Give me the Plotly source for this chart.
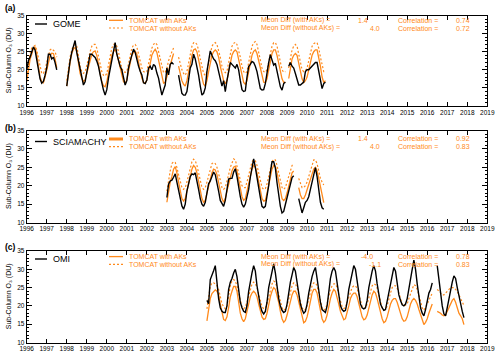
import plotly.graph_objects as go

# ---------------- data (monthly, Jan..Dec per row) ----------------
N = None
a_start = 1996
gome_o3 = [
    20.0, 22.5, 23.5, 25.0, 26.3, 25.5, 22.5, 20.0, 17.5, 16.3, 16.8, 18.5,
    20.5, 24.3, 24.3, 23.0, 23.5, 22.0, 20.0, N, N, N, N, N,
    15.5, 20.0, 22.5, 24.8, 26.7, 28.1, 24.8, 22.5, 19.5, 17.7, 15.8, 16.7,
    19.2, 21.5, 24.3, 24.3, 23.8, 23.4, 22.4, 21.0, 18.6, 16.3, 14.4, 13.0,
    14.5, 17.7, 20.0, 22.4, 24.8, 27.5, 24.3, 22.4, 21.0, 20.0, 18.0, 15.8,
    17.0, 20.5, 22.4, 24.3, 25.7, 24.8, 22.4, 21.0, 19.6, 18.6, 16.4, 16.2,
    17.2, 20.5, 21.0, 20.0, 21.5, 21.0, 19.1, 17.7, 15.3, 13.0, 14.4, 15.8,
    20.5, 18.6, 21.5, 22.0, 21.5, N, N, 18.5, 16.0, 13.5, 13.0, 13.0,
    14.0, 17.0, 20.5, 21.5, 24.3, 23.0, 21.0, 18.5, 15.5, 13.0, 13.5, 15.0,
    19.5, 22.5, 25.2, 24.0, 23.0, 22.5, 21.5, 19.5, 17.0, 15.5, 17.0, 14.0,
    17.0, 20.0, 22.0, 21.5, 21.0, 20.5, 21.5, 20.0, 17.0, 14.5, 14.0, 14.2,
    18.0, 20.9, 21.5, 22.3, 22.0, 21.0, 19.5, 17.0, 14.8, 14.4, 14.5, 16.2,
    19.5, 22.0, 24.2, 22.5, 21.3, 21.8, 19.9, 18.0, 15.3, 14.4, 16.2, 16.6,
    N, 21.0, 22.0, 21.0, 20.5, 19.0, 17.2, 15.8, 15.8, 16.2, 16.6, 19.5,
    20.0, 20.0, 20.5, 21.0, 21.5, 22.0, 22.0, 19.5, 17.0, 14.8, 16.2, 16.6,
]
tomcat_ak_a = [
    16.7, 20.0, 22.9, 24.3, 25.9, 26.2, 24.3, 21.0, 18.1, 16.7, 16.4, 18.0,
    20.0, 22.4, 23.8, 24.6, 24.5, 23.0, 20.5, N, N, N, N, N,
    15.5, 19.5, 22.0, 24.5, 25.7, 26.2, 25.0, 22.0, 19.0, 17.7, 16.7, 17.2,
    19.0, 21.0, 23.0, 24.3, 25.0, 25.2, 24.0, 21.5, 18.6, 16.7, 15.6, 15.3,
    16.7, 19.5, 22.0, 24.0, 25.0, 25.7, 24.5, 22.5, 20.0, 17.8, 16.7, 16.3,
    17.2, 19.6, 22.0, 24.0, 24.8, 25.2, 24.3, 22.0, 19.6, 17.7, 16.5, 16.3,
    17.2, 19.6, 22.0, 24.0, 25.0, 25.7, 24.8, 22.4, 20.0, 17.7, 16.3, 16.5,
    18.0, 20.0, 21.5, 23.0, 24.5, N, N, 21.0, 19.0, 17.0, 16.0, 15.5,
    17.0, 19.5, 22.0, 24.0, 25.5, 25.8, 25.0, 23.0, 20.5, 18.0, 16.0, 15.5,
    17.0, 19.5, 22.0, 24.0, 25.0, 25.5, 25.0, 23.5, 21.0, 18.5, 17.0, 16.2,
    17.0, 19.5, 22.0, 24.0, 25.0, 25.5, 25.0, 23.0, 21.0, 18.5, 16.5, 16.0,
    17.0, 19.5, 22.0, 24.0, 25.1, 25.5, 24.5, 22.5, 20.0, 18.0, 16.6, 16.5,
    17.5, 20.0, 22.5, 24.5, 25.5, 25.5, 24.0, 22.0, 19.5, 17.5, 16.5, 16.5,
    N, 17.6, 20.5, 23.0, 24.0, 24.5, 24.0, 22.0, 19.5, 17.5, 16.5, 17.0,
    18.0, 20.0, 22.0, 24.0, 25.0, 25.5, 25.5, 23.5, 21.0, 18.0, 16.5, 17.0,
]
tomcat_noak_a = [
    18.0, 22.0, 24.5, 26.0, 26.5, 26.7, 25.5, 23.0, 20.5, 19.0, 19.0, 20.0,
    22.0, 24.0, 25.5, 25.8, 25.5, 25.0, 23.5, N, N, N, N, N,
    17.0, 21.0, 23.5, 25.5, 26.7, 27.0, 26.5, 24.0, 21.0, 19.5, 19.0, 19.5,
    21.0, 23.0, 25.0, 26.5, 27.0, 27.0, 26.0, 24.0, 21.5, 19.5, 18.5, 18.3,
    19.0, 21.5, 24.0, 26.0, 27.0, 27.2, 26.5, 25.0, 22.5, 20.5, 19.5, 19.3,
    19.5, 21.5, 24.0, 26.0, 26.8, 27.0, 26.3, 24.5, 22.0, 20.5, 19.5, 19.3,
    19.5, 21.5, 24.0, 26.0, 27.0, 27.5, 27.0, 25.0, 22.5, 20.5, 19.2, 19.3,
    20.5, 22.5, 24.0, 25.0, 26.0, N, N, 23.5, 21.5, 20.0, 19.0, 18.5,
    19.5, 22.0, 24.5, 26.5, 27.5, 27.6, 27.0, 25.5, 23.0, 20.5, 19.0, 18.5,
    19.5, 22.0, 24.5, 26.5, 27.2, 27.5, 27.0, 25.5, 23.5, 21.0, 19.8, 19.2,
    19.5, 22.0, 24.5, 26.5, 27.3, 27.6, 27.0, 25.5, 23.5, 21.0, 19.5, 19.0,
    19.5, 22.0, 24.5, 26.5, 27.5, 27.8, 27.0, 25.0, 22.5, 20.5, 19.5, 19.3,
    20.0, 22.5, 25.0, 26.5, 27.5, 27.5, 26.5, 24.5, 22.0, 20.0, 19.3, 19.5,
    N, 20.5, 23.0, 25.5, 26.5, 27.0, 26.5, 24.5, 22.0, 20.0, 19.5, 19.8,
    20.5, 22.5, 24.5, 26.5, 27.2, 27.5, 27.5, 26.0, 23.5, 21.0, 19.5, 19.5,
]

b_start = 2003
scia_o3 = [
    16.8, 20.4, 21.3, 21.5, 22.3, 23.2, 21.0, 18.5, 16.0, 14.5, 13.6, 15.0,
    18.5, 21.0, 22.5, 23.2, 23.0, 23.5, 21.5, 19.0, 16.5, 15.0, 14.4, 15.5,
    18.0, 20.5, 21.3, 22.5, 23.7, 23.0, 21.0, 18.5, 16.0, 15.0, 14.4, 16.0,
    19.5, 21.8, 22.0, 22.0, 23.7, 24.6, 22.5, 19.5, 17.0, 15.0, 14.2, 15.0,
    17.0, 19.0, 22.3, 25.0, 27.3, 25.0, 22.0, 20.0, 16.8, 14.4, 14.0, 14.4,
    16.8, 20.0, 23.6, 26.5, 26.5, 24.8, 20.8, 17.2, 14.4, 12.6, 13.0, 14.9,
    16.7, 19.0, 20.8, 22.2, 22.7, N, N, 16.5, 14.4, 12.6, 14.0, 15.5,
    16.0, 17.0, 19.0, 21.3, 23.0, 24.9, 22.5, 18.5, 15.5, 14.0, 13.6, N,
]
tomcat_ak_b = [
    15.5, 18.5, 21.0, 22.5, 24.5, 25.2, 23.5, 21.0, 18.5, 16.5, 15.8, 16.5,
    18.5, 20.5, 22.5, 24.5, 25.5, 25.0, 23.5, 21.0, 18.5, 16.5, 15.5, 16.0,
    18.0, 20.0, 22.0, 23.5, 24.5, 24.3, 23.0, 21.0, 18.5, 16.5, 15.5, 16.5,
    18.5, 20.5, 22.5, 24.0, 25.0, 25.3, 24.0, 21.5, 19.0, 17.0, 16.0, 16.5,
    18.5, 20.5, 22.5, 24.5, 25.5, 25.0, 23.5, 21.0, 18.5, 16.5, 15.8, 16.0,
    18.0, 20.5, 22.5, 24.5, 25.5, 25.3, 23.5, 21.0, 18.5, 16.5, 16.0, 16.5,
    18.0, 20.0, 22.0, 23.5, 24.0, N, N, 19.5, 17.5, 16.5, 16.5, 17.5,
    19.0, 20.5, 22.0, 23.5, 24.5, 25.0, 24.0, 22.0, 19.5, 17.0, 15.4, N,
]
tomcat_noak_b = [
    18.5, 21.5, 24.0, 26.0, 26.5, 26.3, 25.0, 23.0, 21.0, 19.5, 19.0, 19.5,
    21.0, 23.0, 25.0, 26.5, 27.2, 26.8, 25.5, 23.5, 21.5, 19.5, 19.0, 19.5,
    21.0, 22.5, 24.5, 26.0, 26.3, 26.0, 25.0, 23.5, 21.5, 19.5, 19.0, 19.5,
    21.0, 23.0, 25.0, 26.5, 27.3, 27.0, 25.5, 23.5, 21.5, 20.0, 19.5, 19.5,
    21.0, 23.0, 25.0, 26.5, 27.0, 26.8, 25.5, 23.5, 21.5, 19.5, 19.0, 19.2,
    20.5, 22.5, 24.5, 26.5, 27.2, 27.0, 25.5, 23.5, 21.5, 19.5, 19.0, 19.5,
    21.0, 22.5, 24.5, 25.5, 26.0, N, N, 22.0, 20.5, 19.5, 19.5, 20.0,
    21.0, 22.5, 24.0, 25.5, 27.0, 27.0, 26.0, 24.0, 22.0, 21.0, 20.2, N,
]

c_start = 2005
omi_o3 = [
    21.5, 20.6, 27.2, 28.2, 29.6, 31.0, 26.0, 22.0, 19.5, 18.5, 18.2, 18.2,
    20.0, 24.5, 26.5, 27.5, 29.0, 30.0, 28.0, 24.0, 21.0, 19.5, 18.5, 18.2,
    20.1, 24.0, 27.0, 29.0, 31.0, 29.5, 25.5, 22.0, 20.0, 18.5, 17.8, 18.5,
    21.0, 25.0, 27.5, 29.5, 31.5, 29.0, 25.0, 22.0, 20.0, 18.8, 18.2, 18.5,
    20.5, 24.0, 26.5, 28.5, 30.5, 29.5, 26.0, 22.5, 20.5, 19.0, 18.0, 18.5,
    20.5, 23.5, 26.0, 28.0, 29.5, 30.5, 27.5, 23.5, 21.0, 19.0, 18.5, 18.2,
    20.0, 24.0, 27.5, 29.5, 30.5, 29.5, 26.0, 22.0, 20.0, 19.0, 18.5, 18.8,
    21.0, 24.5, 27.0, 29.0, 31.0, 30.0, 26.5, 23.0, 20.5, 19.5, 19.2, 19.5,
    21.5, 25.0, 27.5, 29.5, 31.0, 29.5, 26.0, 22.5, 20.5, 19.5, 18.8, 19.0,
    21.5, 24.0, 26.0, 28.5, 30.5, 29.5, 26.5, 23.0, 21.5, 20.3, 20.0, 20.5,
    22.0, 25.0, 27.5, 30.0, 32.5, 30.0, 26.0, 22.0, 19.5, 18.0, 17.3, 19.0,
    21.5, 23.5, 24.5, 26.3, N, N, 31.0, 27.0, 23.0, 20.0, 17.8, 17.3,
    19.5, 22.0, 24.5, 26.5, 28.2, 27.5, 25.0, 22.5, 20.0, 18.5, 16.8, N,
]
tomcat_ak_c = [
    15.9, 19.5, 22.0, 23.4, 23.9, 24.4, 24.0, 23.0, 20.5, 18.0, 16.3, 16.0,
    17.0, 19.5, 22.5, 24.0, 25.3, 25.3, 24.0, 21.0, 18.0, 16.5, 15.7, 16.5,
    18.5, 20.5, 22.5, 23.5, 24.0, 23.5, 22.5, 20.5, 18.5, 17.0, 16.3, 16.5,
    18.0, 20.5, 22.5, 24.0, 25.0, 24.5, 23.0, 21.0, 18.5, 16.5, 15.5, 16.0,
    17.5, 19.5, 21.5, 23.0, 24.0, 24.0, 23.0, 21.0, 18.5, 16.5, 15.4, 15.8,
    17.0, 19.0, 21.5, 23.5, 24.5, 24.5, 23.5, 21.0, 18.5, 16.5, 15.5, 16.0,
    17.5, 20.0, 22.0, 23.5, 24.5, 24.0, 22.5, 20.5, 18.5, 17.0, 16.2, 16.5,
    18.0, 20.0, 22.0, 23.0, 23.5, 23.5, 22.5, 20.5, 18.5, 17.0, 16.2, 16.5,
    17.5, 19.5, 21.5, 23.0, 24.0, 23.5, 22.0, 20.0, 18.0, 16.5, 15.4, 15.8,
    17.0, 19.0, 20.5, 21.5, 22.0, 22.0, 21.0, 19.5, 18.0, 16.5, 15.8, 16.0,
    17.0, 19.0, 20.5, 21.5, 22.0, 21.5, 20.5, 19.0, 17.5, 16.0, 14.9, 15.5,
    16.5, 18.0, 19.5, 20.5, N, N, 18.5, 18.3, 18.0, 17.5, 17.3, 17.5,
    18.5, 19.5, 20.5, 21.5, 22.0, 21.0, 19.5, 18.0, 17.3, 16.5, 14.9, N,
]
tomcat_noak_c = [
    19.2, 22.0, 25.3, 26.3, 26.3, 26.0, 25.5, 24.5, 22.5, 20.6, 19.8, 19.2,
    20.0, 22.5, 25.5, 26.8, 27.2, 26.8, 25.5, 23.5, 21.5, 19.7, 19.2, 19.7,
    21.0, 22.5, 24.5, 26.0, 26.5, 26.0, 25.0, 23.0, 21.0, 19.8, 19.2, 19.5,
    20.5, 22.5, 24.5, 26.0, 26.8, 26.5, 25.0, 23.0, 21.0, 19.5, 18.8, 19.2,
    20.0, 22.0, 24.0, 25.5, 26.3, 26.0, 25.0, 23.0, 21.0, 19.5, 18.8, 19.0,
    20.0, 22.0, 24.0, 25.5, 26.3, 26.3, 25.5, 23.5, 21.0, 19.5, 18.8, 19.2,
    20.5, 22.5, 24.5, 25.5, 26.0, 26.0, 25.0, 23.0, 21.0, 19.8, 19.3, 19.5,
    21.0, 22.5, 24.0, 25.0, 25.5, 25.5, 24.8, 23.0, 21.0, 19.8, 19.3, 19.5,
    20.5, 22.0, 24.0, 25.5, 26.0, 25.8, 24.8, 23.0, 21.0, 19.5, 18.8, 19.0,
    20.0, 22.0, 23.5, 25.0, 25.5, 25.5, 24.8, 23.5, 22.0, 20.5, 20.0, 20.2,
    20.5, 22.0, 23.5, 25.0, 25.8, 25.5, 24.5, 23.0, 21.0, 19.5, 18.8, 19.5,
    20.5, 21.5, 22.5, 23.5, N, N, 24.5, 24.0, 23.5, 23.0, 23.0, 23.5,
    24.0, 24.5, 25.0, 25.0, 25.0, 24.5, 24.0, 23.0, 22.0, 21.0, 20.1, N,
]

year_ticks = list(range(1996, 2020))
year_labels = [str(v) for v in year_ticks]
y_ticks = [10, 15, 20, 25, 30, 35]

panels = [
    dict(name="GOME", start=a_start, obs=gome_o3, ak=tomcat_ak_a, noak=tomcat_noak_a,
         md1="1.4", md2="4.0", r1="0.74", r2="0.72", label="(a)"),
    dict(name="SCIAMACHY", start=b_start, obs=scia_o3, ak=tomcat_ak_b, noak=tomcat_noak_b,
         md1="1.4", md2="4.0", r1="0.92", r2="0.83", label="(b)"),
    dict(name="OMI", start=c_start, obs=omi_o3, ak=tomcat_ak_c, noak=tomcat_noak_c,
         md1="-4.0", md2="-1.1", r1="0.78", r2="0.83", label="(c)"),
]

# ---------------- layout geometry (pixels) ----------------
W, H = 500, 359
XL, XR = 26.7, 487.3
tops = [15.5, 130.5, 251.0]
bots = [106.0, 222.5, 342.5]
label_y = [8.3, 128.3, 246.7]
obs_leg_y = [24.0, 141.5, 259.0]
mod_leg_y = [(20.3, 28.0), (139.0, 146.7), (256.6, 264.3)]
ORANGE = "#FF8A1C"
FONT = "Liberation Sans, Arial, sans-serif"
TXT = 7

def px(x):
    return x / W

def py(y):
    return 1 - y / H

fig = go.Figure()
shapes = []
annotations = []

for i, p in enumerate(panels):
    n = len(p["obs"])
    t = [p["start"] + k / 12 for k in range(n)]
    sfx = "" if i == 0 else str(i + 1)
    xa, ya = "x" + sfx, "y" + sfx
    fig.add_trace(go.Scatter(x=t, y=p["noak"], mode="lines", xaxis=xa, yaxis=ya,
                             line=dict(color=ORANGE, width=1.2, dash="2px,2px"),
                             connectgaps=False, showlegend=False))
    fig.add_trace(go.Scatter(x=t, y=p["ak"], mode="lines", xaxis=xa, yaxis=ya,
                             line=dict(color=ORANGE, width=1.3),
                             connectgaps=False, showlegend=False))
    fig.add_trace(go.Scatter(x=t, y=p["obs"], mode="lines", xaxis=xa, yaxis=ya,
                             line=dict(color="black", width=1.4),
                             connectgaps=False, showlegend=False))

    top, bot = tops[i], bots[i]
    fig.layout["xaxis" + sfx] = dict(
        domain=[px(XL), px(XR)], range=[1996, 2019], anchor=ya,
        tickmode="array", tickvals=year_ticks, ticktext=year_labels,
        tickangle=0, ticklabeloverflow="allow",
        ticks="inside", ticklen=4, tickwidth=0.8, tickcolor="black",
        showline=True, linecolor="black", linewidth=1, mirror="ticks",
        showgrid=False, zeroline=False, tickfont=dict(family=FONT, size=6.5, color="black"),
        fixedrange=True)
    fig.layout["yaxis" + sfx] = dict(
        domain=[py(bot), py(top)], range=[10, 35], anchor=xa,
        tickmode="array", tickvals=y_ticks, ticks="inside", ticklen=5, tickwidth=0.8,
        tickcolor="black", showline=True, linecolor="black", linewidth=1, mirror="ticks",
        ticklabeloverflow="allow",
        minor=dict(dtick=1, ticklen=2.5, tickcolor="black", ticks="inside", showgrid=False),
        showgrid=False, zeroline=False, tickfont=dict(family=FONT, size=6.5, color="black"),
        fixedrange=True)

    # panel label
    annotations.append(dict(x=px(3), y=py(label_y[i]), xref="paper", yref="paper",
                            text=p["label"], showarrow=False,
                            xanchor="left", yanchor="middle",
                            font=dict(family=FONT, size=8.5, color="black", weight="bold")))
    # y-axis title
    annotations.append(dict(x=px(8.5), y=py((top + bot) / 2), xref="paper", yref="paper",
                            text="Sub-Column O\u2083 (DU)", textangle=-90,
                            showarrow=False, xanchor="center", yanchor="middle",
                            font=dict(family=FONT, size=7, color="black")))
    # obs legend
    ly = obs_leg_y[i]
    shapes.append(dict(type="line", xref="paper", yref="paper", x0=px(35), x1=px(47),
                       y0=py(ly), y1=py(ly), line=dict(color="black", width=1.4)))
    annotations.append(dict(x=px(51), y=py(ly), xref="paper", yref="paper", text=p["name"],
                            showarrow=False, xanchor="left", yanchor="middle",
                            font=dict(family=FONT, size=9, color="black")))
    # model legend
    l1, l2 = mod_leg_y[i]
    shapes.append(dict(type="line", xref="paper", yref="paper", x0=px(109), x1=px(123),
                       y0=py(l1), y1=py(l1),
                       line=dict(color=ORANGE, width=3 if i == 1 else 1.3)))
    shapes.append(dict(type="line", xref="paper", yref="paper", x0=px(109), x1=px(123),
                       y0=py(l2), y1=py(l2), line=dict(color=ORANGE, width=1.2, dash="2px,2px")))
    for yy, txt in ((l1, "TOMCAT with AKs"), (l2, "TOMCAT without AKs")):
        annotations.append(dict(x=px(127), y=py(yy), xref="paper", yref="paper", text=txt,
                                showarrow=False, xanchor="left", yanchor="middle",
                                font=dict(family=FONT, size=TXT, color=ORANGE)))
    # stats
    for k, (yy, lab, md, r) in enumerate(((l1, "Meon Diff (with AKs) =", p["md1"], p["r1"]),
                                          (l2, "Meon Diff (without AKs) =", p["md2"], p["r2"]))):
        annotations.append(dict(x=px(259), y=py(yy), xref="paper", yref="paper", text=lab,
                                showarrow=False, xanchor="left", yanchor="middle",
                                font=dict(family=FONT, size=TXT, color=ORANGE)))
        xr = 370 if k == 0 else 382
        if i == 2:
            xr = 375 if k == 0 else 383
        annotations.append(dict(x=px(xr), y=py(yy), xref="paper", yref="paper", text=md,
                                showarrow=False, xanchor="right", yanchor="middle",
                                font=dict(family=FONT, size=TXT, color=ORANGE)))
        annotations.append(dict(x=px(396), y=py(yy), xref="paper", yref="paper",
                                text="Correlation =", showarrow=False, xanchor="left",
                                yanchor="middle", font=dict(family=FONT, size=TXT, color=ORANGE)))
        annotations.append(dict(x=px(472), y=py(yy), xref="paper", yref="paper", text=r,
                                showarrow=False, xanchor="right", yanchor="middle",
                                font=dict(family=FONT, size=TXT, color=ORANGE)))

fig.update_layout(width=W, height=H, margin=dict(l=0, r=0, t=0, b=0, autoexpand=False),
                  paper_bgcolor="white", plot_bgcolor="white",
                  shapes=shapes, annotations=annotations, showlegend=False)
fig.write_html("out.html", config={"displayModeBar": False},
               post_script="document.body.style.margin='0px';"
                           "document.body.style.padding='0px';"
                           "document.body.style.overflow='hidden';")
